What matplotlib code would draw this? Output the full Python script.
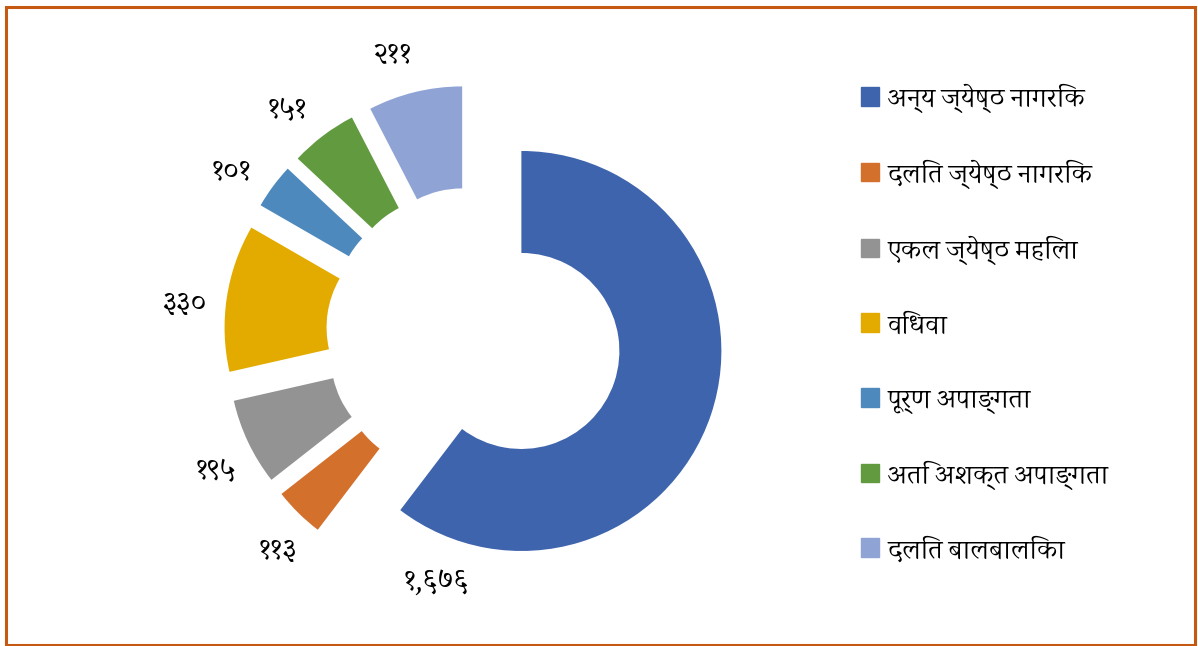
import matplotlib
matplotlib.use('Agg')
import matplotlib.pyplot as plt
from matplotlib import font_manager
from matplotlib.patches import Rectangle
import numpy as np

# Data
categories = ['अन्य ज्येष्ठ नागरिक', 'दलित ज्येष्ठ नागरिक', 'एकल ज्येष्ठ महिला',
              'विधवा', 'पूर्ण अपाङ्गता', 'अति अशक्त अपाङ्गता', 'दलित बालबालिका']
values = [1676, 113, 195, 330, 101, 151, 211]
colors = ['#3E64AD', '#D2702C', '#939393', '#E3AA00', '#4E89BD', '#629A3F', '#8FA3D5']

# pick a Devanagari font that is installed (serif ones look closest)
installed = {f.name for f in font_manager.fontManager.ttflist}
wanted = ['Sahitya', 'Karma', 'Halant', 'Noto Serif Devanagari', 'Tiro Devanagari Hindi',
          'Martel', 'Noto Sans Devanagari', 'FreeSerif']
deva = [n for n in wanted if n in installed][:1]
plt.rcParams['font.family'] = deva + ['DejaVu Sans']

to_deva = str.maketrans('0123456789', '०१२३४५६७८९')
value_labels = [f'{v:,}'.translate(to_deva) for v in values]

fig = plt.figure(figsize=(11.98, 6.46), dpi=100)
ax = fig.add_axes([174 / 1198, 11 / 646, 600 / 1198, 600 / 646])

wedges, _ = ax.pie(values, colors=colors, startangle=90, counterclock=False,
                   radius=1.0, explode=[0.25] * len(values),
                   wedgeprops=dict(width=0.51, linewidth=0))
ax.set_xlim(-1.5, 1.5)
ax.set_ylim(-1.5, 1.5)
ax.set_aspect('equal')
ax.axis('off')

# value labels just outside each wedge
for i, w in enumerate(wedges):
    ang = (w.theta1 + w.theta2) / 2 + 3
    dist = 1.21
    if i == 0:
        # first label sits near the end of the big slice
        ang = w.theta1 + 17
        dist = 1.23
    cx, cy = w.center
    x = cx + dist * np.cos(np.radians(ang))
    y = cy + dist * np.sin(np.radians(ang))
    ax.text(x, y, value_labels[i], ha='center', va='center', fontsize=23, color='black')

handles = [Rectangle((0, 0), 1, 1, color=c) for c in colors]
fig.legend(handles, categories, loc='upper left', bbox_to_anchor=(836 / 1198, 1 - 59 / 646),
           frameon=False, fontsize=20, handlelength=0.65, handleheight=0.65,
           handletextpad=0.3, labelspacing=1.68)

# orange frame round the chart
fig.patches.append(Rectangle((5.5 / 1198, 1.5 / 646), 1189 / 1198, 638 / 646,
                             transform=fig.transFigure, fill=False,
                             edgecolor='#C65911', linewidth=2.2))

fig.savefig('out.png', dpi=100)
